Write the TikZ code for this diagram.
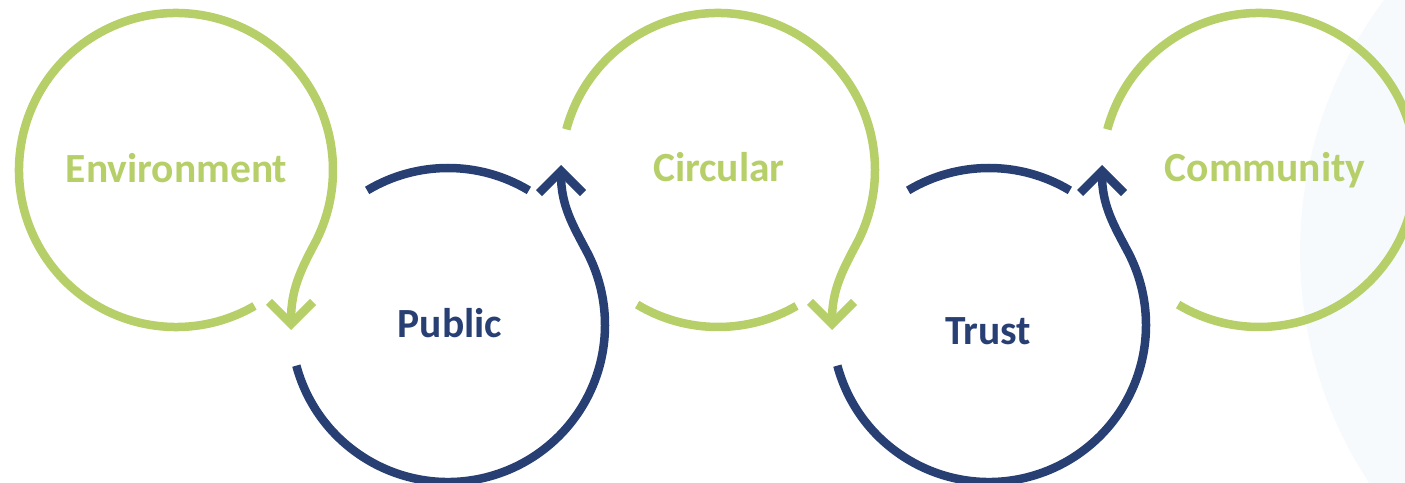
\documentclass[tikz,border=0pt]{standalone}
\usepackage{fontspec}
\setmainfont{Carlito}
\usepackage{tikz}
\usetikzlibrary{arrows.meta,calc}

\begin{document}
\begin{tikzpicture}[x=1pt,y=1pt]
        \definecolor{leafgreen}{RGB}{182,207,104}
        \definecolor{navyblue}{RGB}{40,63,116}
        \definecolor{paleblue}{RGB}{246,250,253}
        \tikzset{
            loopline/.style={line width=8.5pt},
            greenloop/.style={loopline,color=leafgreen},
            blueloop/.style={loopline,color=navyblue},
            bendtip/.style={-{Straight Barb[length=22pt,width=44pt]}},
            word/.style={font=\bfseries\fontsize{41.5}{41.5}\selectfont,anchor=base}
        }

        \useasboundingbox (0,0) rectangle (1405,482);
        \clip (0,0) rectangle (1405,482);
        \fill[paleblue] (1720,230) circle (420pt);

        \coordinate (env) at (176,312);
        \coordinate (pub) at (448,157);
        \coordinate (circ) at (718,312);
        \coordinate (trust) at (989,157);
        \coordinate (comm) at (1259,312);

        \coordinate (tipA) at ($(pub)+(-157,-5)$);
        \coordinate (tipB) at ($(circ)+(-157,5)$);
        \coordinate (tipC) at ($(trust)+(-157,-5)$);
        \coordinate (tipD) at ($(comm)+(-157,5)$);

        % green loops
        \draw[greenloop,bendtip] ($(env)+(-60:157)$) arc[start angle=-60,end angle=-388,radius=157pt]
            .. controls +(-118:30) and +(0,40) .. (tipA);
        \draw[greenloop,bendtip] ($(circ)+(165:157)$) arc[start angle=165,end angle=-28,radius=157pt]
            .. controls +(-118:30) and +(0,40) .. (tipC);
        \draw[greenloop] ($(circ)+(239:157)$) arc[start angle=239,end angle=300,radius=157pt];
        \draw[greenloop] ($(comm)+(165:157)$) arc[start angle=165,end angle=-121,radius=157pt];

        % blue loops
        \draw[blueloop,bendtip] ($(pub)+(195:157)$) arc[start angle=195,end angle=388,radius=157pt]
            .. controls +(118:30) and +(0,-40) .. (tipB);
        \draw[blueloop] ($(pub)+(121:157)$) arc[start angle=121,end angle=59,radius=157pt];
        \draw[blueloop,bendtip] ($(trust)+(195:157)$) arc[start angle=195,end angle=388,radius=157pt]
            .. controls +(118:30) and +(0,-40) .. (tipD);
        \draw[blueloop] ($(trust)+(121:157)$) arc[start angle=121,end angle=59,radius=157pt];

        \node[word,leafgreen] (envlabel) at (176.5,299) {Environment};
        \node[word,navyblue] (publabel) at (450,144) {Public};
        \node[word,leafgreen] (circlabel) at (719,300) {Circular};
        \node[word,navyblue] (trustlabel) at (988,137) {Trust};
        \node[word,leafgreen] (commlabel) at (1265,300) {Community};
    \end{tikzpicture}
\end{document}
